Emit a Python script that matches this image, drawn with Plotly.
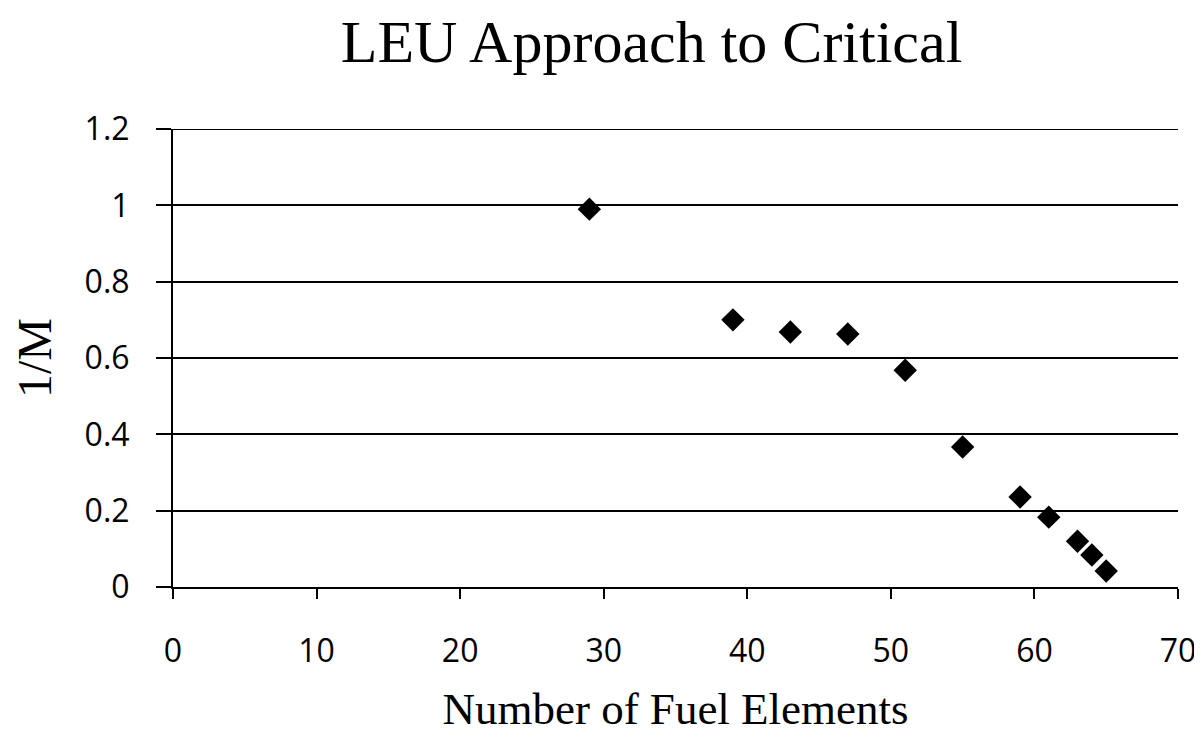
import plotly.graph_objects as go

fuel_elements = [29, 39, 43, 47, 51, 55, 59, 61, 63, 64, 65]
inv_m = [0.99, 0.70, 0.668, 0.663, 0.568, 0.367, 0.236, 0.183, 0.12, 0.084, 0.042]
x_ticks = [0, 10, 20, 30, 40, 50, 60, 70]
y_ticks = [0, 0.2, 0.4, 0.6, 0.8, 1, 1.2]
y_tick_text = ["0", "0.2", "0.4", "0.6", "0.8", "1", "1.2"]
y_max = 1.2

fig = go.Figure()
fig.add_trace(go.Scatter(
    x=fuel_elements, y=inv_m, mode="markers",
    marker=dict(symbol="diamond", size=18, color="black"),
    showlegend=False,
))

# top gridline (at the edge of the plotting area)
fig.add_shape(type="line", xref="paper", yref="y", x0=0, x1=1, y0=y_max, y1=y_max,
              line=dict(color="black", width=2), layer="above")

fig.update_layout(
    width=1194, height=743,
    margin=dict(l=165, r=24, t=121, b=164, autoexpand=False),
    paper_bgcolor="white", plot_bgcolor="white",
    title=dict(text="LEU Approach to Critical", x=0.539, xanchor="center",
               y=0.955, yanchor="middle",
               font=dict(family="Liberation Serif", size=60, color="black")),
    xaxis=dict(
        range=[0, 70], tickvals=x_ticks, showgrid=False, zeroline=False,
        automargin=False,
        showline=True, linecolor="black", linewidth=2,
        ticks="outside", ticklen=10, tickwidth=2, tickcolor="black",
        ticklabelstandoff=25, ticklabeloverflow="allow",
        tickfont=dict(family="Open Sans", size=32, color="black"),
        title=dict(text="Number of Fuel Elements", standoff=22,
                   font=dict(family="Liberation Serif", size=45, color="black")),
    ),
    yaxis=dict(
        range=[0, y_max], tickvals=y_ticks, ticktext=y_tick_text,
        showgrid=True, gridcolor="black", gridwidth=2, zeroline=False,
        automargin=False,
        showline=True, linecolor="black", linewidth=2,
        ticks="outside", ticklen=15, tickwidth=2, tickcolor="black",
        ticklabelstandoff=20,
        tickfont=dict(family="Open Sans", size=32, color="black"),
        title=dict(text="1/M", standoff=28,
                   font=dict(family="Liberation Serif", size=48, color="black")),
    ),
)

fig.write_html("out.html")
